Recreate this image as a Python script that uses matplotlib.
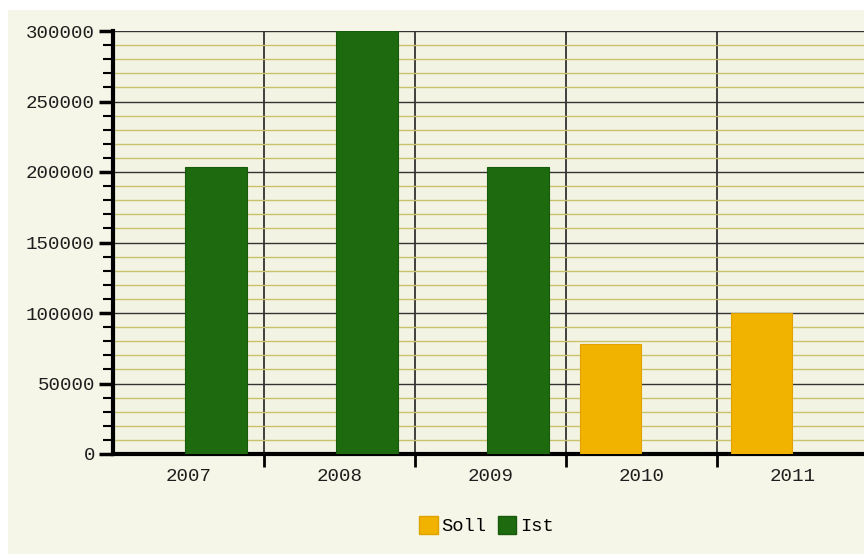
import numpy as np
import matplotlib.pyplot as plt
from matplotlib.patches import Rectangle, Patch
from matplotlib.ticker import MultipleLocator

years = ['2007', '2008', '2009', '2010', '2011']
soll = [0, 0, 0, 78000, 100000]
ist = [203500, 300000, 203500, 0, 0]

SOLL_COLOR = '#f2b200'
IST_COLOR = '#1d6a0f'
BG = '#f6f6e8'

plt.rcParams['font.family'] = ['Liberation Mono', 'DejaVu Sans Mono']

fig = plt.figure(figsize=(8.64, 5.54), dpi=100)
fig.patch.set_facecolor('white')
# cream panel behind everything, leaving a thin white edge top and left
fig.patches.append(Rectangle((8 / 864, 0), 1, 1 - 10 / 554, transform=fig.transFigure,
                             facecolor=BG, edgecolor='none', zorder=-10))

ax = fig.add_axes([113 / 864, 1 - 454 / 554, 755 / 864, 423 / 554])
ax.set_facecolor('#f3f3e3')

x = np.arange(len(years))
w = 0.41
ax.bar(x - w / 2, soll, w, color=SOLL_COLOR, edgecolor='#e0a200', linewidth=0.8, zorder=3)
ax.bar(x + w / 2 - 0.02, ist, w, color=IST_COLOR, edgecolor='#175a0b', linewidth=0.8, zorder=3)

ax.set_xlim(-0.5, len(years) - 0.5)
ax.set_ylim(0, 300000)

ax.yaxis.set_major_locator(MultipleLocator(50000))
ax.yaxis.set_minor_locator(MultipleLocator(10000))
ax.grid(which='major', axis='y', color='#333333', linewidth=1.0, zorder=1)
ax.grid(which='minor', axis='y', color='#c9c26a', linewidth=1.0, zorder=1)

# category boundaries carry the x ticks and the vertical grid
ax.set_xticks(np.arange(len(years)) + 0.5)
ax.set_xticklabels([])
ax.set_xticks(x, minor=True)
ax.set_xticklabels(years, minor=True)
ax.grid(which='major', axis='x', color='#222222', linewidth=1.2, zorder=1)
ax.tick_params(axis='x', which='major', direction='out', length=9, width=2, color='black')
ax.tick_params(axis='x', which='minor', length=0, pad=10, labelsize=13.8, labelcolor='#1e1e1e')
ax.tick_params(axis='y', which='major', direction='out', length=10, width=2.5,
               color='black', labelsize=13.8, labelcolor='#1e1e1e', pad=3)
ax.tick_params(axis='y', which='minor', direction='out', length=7, width=1.5, color='black')

for side in ('top', 'right'):
    ax.spines[side].set_visible(False)
ax.spines['left'].set_linewidth(3)
ax.spines['bottom'].set_linewidth(3)

handles = [Patch(facecolor=SOLL_COLOR, edgecolor='#e0a200'),
           Patch(facecolor=IST_COLOR, edgecolor='#175a0b')]
fig.legend(handles, ['Soll', 'Ist'], loc='center', bbox_to_anchor=(0.563, 0.052), ncol=2,
           frameon=False, prop={'family': 'Liberation Mono', 'size': 13.5},
           handlelength=1.0, handleheight=1.1, handletextpad=0.2, columnspacing=0.6)

fig.savefig('out.png', dpi=100, facecolor=fig.get_facecolor())
